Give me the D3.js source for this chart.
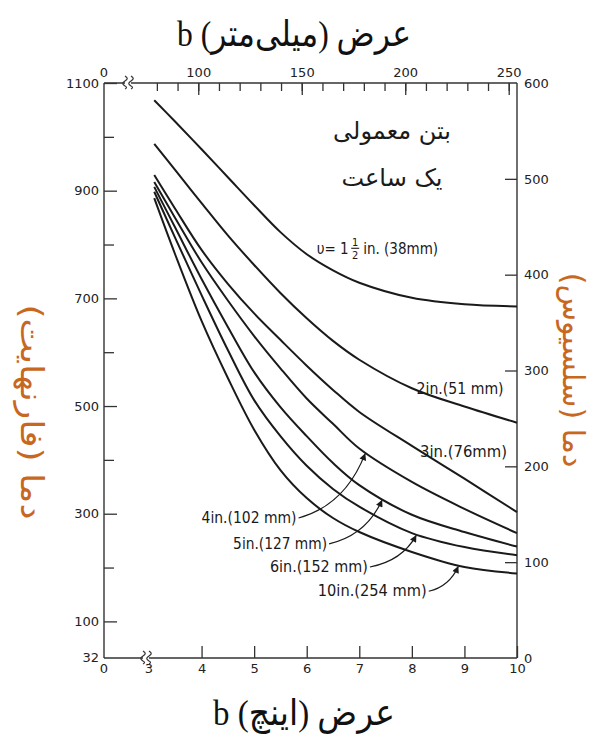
<!DOCTYPE html>
<html lang="fa">
<head>
<meta charset="utf-8">
<title>دمای بتن معمولی پس از یک ساعت</title>
<script src="https://cdn.jsdelivr.net/npm/d3@7/dist/d3.min.js"></script>
<style>
  html, body { margin: 0; padding: 0; background: #fff; }
  svg { display: block; }
</style>
</head>
<body>
<svg id="chart" width="607" height="740"></svg>
<script>
// Member width (inches) at which the temperatures are read
const widthIn = [3.1, 3.5, 4, 4.5, 5, 5.5, 6, 6.5, 7, 8, 9, 10];

// Temperature (°F) after one hour of fire, one series per cover depth u
const temp1_5in = [1068, 1028, 977, 925, 873, 823, 782, 752, 729, 701, 689, 685];
const temp2in   = [987, 938, 877, 817, 762, 710, 663, 621, 586, 533, 499, 469];
const temp3in   = [929, 866, 790, 727, 672, 623, 575, 530, 489, 426, 365, 303];
const temp4in   = [916, 849, 767, 696, 630, 570, 514, 467, 421, 359, 309, 264];
const temp5in   = [907, 831, 736, 647, 563, 498, 444, 394, 353, 298, 266, 239];
const temp6in   = [898, 812, 706, 604, 511, 444, 389, 346, 313, 264, 238, 223];
const temp10in  = [886, 781, 658, 552, 456, 381, 329, 292, 266, 229, 201, 189];

const seriesTemps = [temp1_5in, temp2in, temp3in, temp4in, temp5in, temp6in, temp10in];
const curveLabels = ["υ= 1", "2in.(51 mm)", "3in.(76mm)", "4in.(102 mm)", "5in.(127 mm)", "6in.(152 mm)", "10in.(254 mm)"];

// Tick values of the four axes
const inchTicks = [4, 5, 6, 7, 8, 9, 10];
const mmMinorTicks = [80, 90, 100, 110, 120, 130, 140, 150, 160, 170, 180, 190, 200, 210, 220, 230, 240, 250];
const mmMajorTicks = [100, 150, 200, 250];
const fMajorTicks = [100, 300, 500, 700, 900, 1100];
const fMinorTicks = [200, 400, 600, 800, 1000];
const cTicks = [0, 100, 200, 300, 400, 500, 600];

// Text
const titleTop = "عرض (میلی‌متر) b";
const titleBottom = "عرض (اینچ) b";
const titleLeft = "دما (فارنهایت)";
const titleRight = "دما (سلسیوس)";
const noteLines = ["بتن معمولی", "یک ساعت"];

// ---- layout ----
const frameLeft = 104, frameRight = 517, frameTop = 83, frameBottom = 658;
const ink = "#1a1a1a";
const accent = "#c8681f";

const x = d3.scaleLinear().domain([3, 10]).range([149, frameRight]);
const xmm = d3.scaleLinear().domain([3 * 25.4, 10 * 25.4]).range(x.range());
const yF = d3.scaleLinear().domain([32, 1100]).range([frameBottom, frameTop]);
const yC = d3.scaleLinear().domain([0, 600]).range([frameBottom, frameTop]);

const svg = d3.select("#chart");
svg.append("rect").attr("width", 607).attr("height", 740).attr("fill", "#fff");

const defs = svg.append("defs");
defs.append("marker")
  .attr("id", "arrowHead")
  .attr("viewBox", "0 0 10 10")
  .attr("refX", 9).attr("refY", 5)
  .attr("markerWidth", 8).attr("markerHeight", 7)
  .attr("markerUnits", "userSpaceOnUse")
  .attr("orient", "auto")
  .append("path").attr("d", "M0,0 L10,5 L0,10 Z").attr("fill", ink);

const tickFont = "'DejaVu Sans', Arial, sans-serif";

// ---- frame ----
const frame = svg.append("g").attr("stroke", "#333").attr("stroke-width", 1.4).attr("fill", "none");
frame.append("line").attr("x1", frameLeft).attr("x2", frameLeft).attr("y1", frameTop).attr("y2", frameBottom);
frame.append("line").attr("x1", frameRight).attr("x2", frameRight).attr("y1", frameTop).attr("y2", frameBottom);
frame.append("line").attr("x1", frameLeft).attr("x2", frameRight).attr("y1", frameTop).attr("y2", frameTop);
frame.append("line").attr("x1", frameLeft).attr("x2", frameRight).attr("y1", frameBottom).attr("y2", frameBottom);

// axis break marks
function breakMark(cx, cy) {
  const g = svg.append("g");
  g.append("rect").attr("x", cx - 3).attr("y", cy - 2).attr("width", 6).attr("height", 4).attr("fill", "#fff");
  [-3, 3].forEach(dx => {
    g.append("path")
      .attr("d", `M${cx + dx},${cy - 7} c 3,2 3,3 0,5 c -3,2 -3,3 0,5 c 2,1 2,2 0,3`)
      .attr("fill", "none").attr("stroke", "#333").attr("stroke-width", 1.2);
  });
}
breakMark(128, frameTop);
breakMark(146, frameBottom);

function styleAxis(g) {
  g.select(".domain").remove();
  g.attr("font-family", tickFont).attr("font-size", 13).attr("color", "#222");
  g.selectAll("line").attr("stroke", "#333").attr("stroke-width", 1.3);
}

// bottom axis, inches
svg.append("g").attr("transform", `translate(0,${frameBottom})`)
  .call(d3.axisBottom(x).tickValues(inchTicks).tickFormat(d3.format("d")).tickSizeInner(-12).tickSizeOuter(0).tickPadding(6))
  .call(styleAxis);
svg.append("g").attr("font-family", tickFont).attr("font-size", 13).attr("fill", "#222").attr("text-anchor", "middle")
  .selectAll("text").data([[frameLeft, "0"], [x(3), "3"]]).join("text")
  .attr("x", d => d[0]).attr("y", frameBottom + 6).attr("dy", "0.71em").text(d => d[1]);

// top axis, millimetres
svg.append("g").attr("transform", `translate(0,${frameTop})`)
  .call(d3.axisTop(xmm).tickValues(mmMinorTicks).tickFormat("").tickSizeInner(-8).tickSizeOuter(0))
  .call(styleAxis);
svg.append("g").attr("transform", `translate(0,${frameTop})`)
  .call(d3.axisTop(xmm).tickValues(mmMajorTicks).tickFormat(d3.format("d")).tickSizeInner(-12).tickSizeOuter(0).tickPadding(6))
  .call(styleAxis);
svg.append("text").attr("font-family", tickFont).attr("font-size", 13).attr("fill", "#222")
  .attr("text-anchor", "middle").attr("x", frameLeft).attr("y", frameTop - 6).text("0");

// left axis, Fahrenheit
svg.append("g").attr("transform", `translate(${frameLeft},0)`)
  .call(d3.axisLeft(yF).tickValues(fMajorTicks).tickFormat(d3.format("d")).tickSizeInner(-13).tickSizeOuter(0).tickPadding(5))
  .call(styleAxis);
svg.append("g").attr("transform", `translate(${frameLeft},0)`)
  .call(d3.axisLeft(yF).tickValues(fMinorTicks).tickFormat("").tickSizeInner(-10).tickSizeOuter(0))
  .call(styleAxis);
svg.append("text").attr("font-family", tickFont).attr("font-size", 13).attr("fill", "#222")
  .attr("text-anchor", "end").attr("x", frameLeft - 5).attr("y", yF(32)).attr("dy", "0.32em").text("32");

// right axis, Celsius
svg.append("g").attr("transform", `translate(${frameRight},0)`)
  .call(d3.axisRight(yC).tickValues(cTicks).tickFormat(d3.format("d")).tickSizeInner(-12).tickSizeOuter(0).tickPadding(7))
  .call(styleAxis)
  .call(g => g.selectAll(".tick").filter(d => d === 0 || d === 600).select("line").remove());

// ---- curves ----
const line = d3.line()
  .x(d => x(d[0]))
  .y(d => yF(d[1]))
  .curve(d3.curveCatmullRom.alpha(0.5));

const curvePaths = seriesTemps.map(temps =>
  svg.append("path")
    .attr("d", line(widthIn.map((w, i) => [w, temps[i]])))
    .attr("fill", "none").attr("stroke", ink).attr("stroke-width", 2)
    .node()
);

// y pixel on a drawn curve at a given x pixel
function yOnCurve(pathNode, px) {
  const len = pathNode.getTotalLength();
  let lo = 0, hi = len;
  for (let k = 0; k < 40; k++) {
    const mid = (lo + hi) / 2;
    if (pathNode.getPointAtLength(mid).x < px) lo = mid; else hi = mid;
  }
  return pathNode.getPointAtLength((lo + hi) / 2).y;
}

// ---- curve labels ----
// anchor (left end, vertical centre) in data units: [inches, °F], and lettering width in px
const labelAnchor = [[6.19, 793], [8.09, 533], [8.155, 416], [4.0, 292], [4.6, 244], [5.3, 201], [6.21, 156]];
const labelWidth = [null, 87, 87, 95, 94, 98, 109];
// curves reached by a leader arrow, with the width (in) of the arrow tip
const leaders = [{ s: 3, tip: 7.11 }, { s: 4, tip: 7.43 }, { s: 5, tip: 8.08 }, { s: 6, tip: 8.88 }];

const labelFont = "'DejaVu Sans Condensed', 'DejaVu Sans', sans-serif";
const labelG = svg.append("g").attr("font-family", labelFont).attr("font-stretch", "condensed")
  .attr("font-size", 15).attr("fill", ink);

const labelNodes = curveLabels.map((t, i) => {
  const el = labelG.append("text")
    .attr("x", x(labelAnchor[i][0]))
    .attr("y", yF(labelAnchor[i][1]))
    .attr("dy", "0.35em")
    .text(t);
  if (labelWidth[i]) el.attr("textLength", labelWidth[i]).attr("lengthAdjust", "spacingAndGlyphs");
  return el.node();
});

// stacked one-half for the 1½ in. label
{
  const n = labelNodes[0];
  const bx = x(labelAnchor[0][0]) + n.getComputedTextLength() + 2.5;
  const by = yF(labelAnchor[0][1]);
  labelG.append("text").attr("x", bx + 4).attr("y", by - 2).attr("font-size", 11).attr("text-anchor", "middle").text("1");
  labelG.append("line").attr("x1", bx).attr("x2", bx + 8).attr("y1", by).attr("y2", by)
    .attr("stroke", ink).attr("stroke-width", 1.1);
  labelG.append("text").attr("x", bx + 4).attr("y", by + 11).attr("font-size", 11).attr("text-anchor", "middle").text("2");
  labelG.append("text").attr("x", bx + 12).attr("y", by).attr("dy", "0.35em").text("in.  (38mm)");
}

// leader arrows from labels to their curves
leaders.forEach(l => {
  const sx = x(labelAnchor[l.s][0]) + labelWidth[l.s] + 2;
  const sy = yF(labelAnchor[l.s][1]);
  const tx = x(l.tip);
  const ty = yOnCurve(curvePaths[l.s], tx) + 1;
  const cx = sx + 0.7 * (tx - sx);
  const cy = sy - 0.2 * (sy - ty);
  svg.append("path")
    .attr("d", `M${sx},${sy} Q${cx},${cy} ${tx},${ty}`)
    .attr("fill", "none").attr("stroke", ink).attr("stroke-width", 1.2)
    .attr("marker-end", "url(#arrowHead)");
});

// ---- notes and titles ----
const persianFont = "'Liberation Serif', 'DejaVu Sans', serif";
svg.append("g").attr("font-family", "'DejaVu Sans', sans-serif").attr("font-size", 24).attr("fill", ink)
  .attr("text-anchor", "middle").attr("direction", "rtl")
  .selectAll("text").data(noteLines).join("text")
  .attr("x", 392).attr("y", (d, i) => 139 + i * 47).text(d => d);

svg.append("text").attr("font-family", persianFont).attr("font-size", 36).attr("fill", "#111")
  .attr("direction", "rtl").attr("text-anchor", "middle")
  .attr("textLength", 234).attr("lengthAdjust", "spacingAndGlyphs")
  .attr("x", 294).attr("y", 46).text(titleTop);
svg.append("text").attr("font-family", persianFont).attr("font-size", 36).attr("fill", "#111")
  .attr("direction", "rtl").attr("text-anchor", "middle")
  .attr("textLength", 182).attr("lengthAdjust", "spacingAndGlyphs")
  .attr("x", 304).attr("y", 725).text(titleBottom);

svg.append("text").attr("font-family", "'DejaVu Sans', sans-serif").attr("font-size", 31).attr("fill", accent)
  .attr("direction", "rtl").attr("text-anchor", "middle")
  .attr("textLength", 215).attr("lengthAdjust", "spacingAndGlyphs")
  .attr("transform", "translate(21,412) rotate(90)").text(titleLeft);
svg.append("text").attr("font-family", "'DejaVu Sans', sans-serif").attr("font-size", 30).attr("fill", accent)
  .attr("direction", "rtl").attr("text-anchor", "middle")
  .attr("transform", "translate(563,370) rotate(90)").text(titleRight);
</script>
</body>
</html>
